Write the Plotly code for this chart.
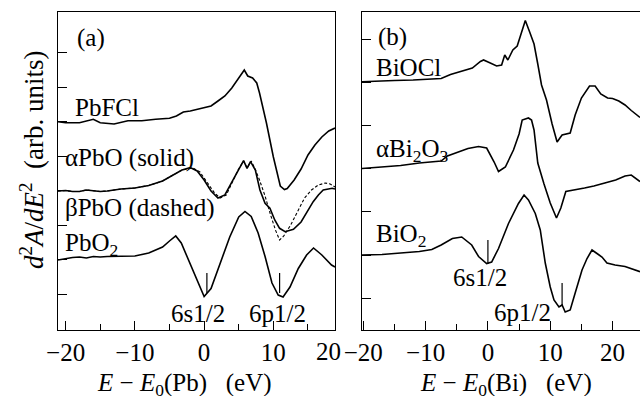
import plotly.graph_objects as go

# ---------------- data (x in eV, y in arb. units) ----------------
pbfcl_x = [-21.1, -20, -18, -16, -15, -13, -11, -9, -7, -5, -4, -3, -2, -1, 0, 1, 2, 3, 4, 5, 5.8, 6.3, 7, 7.6, 8, 9, 10, 11, 11.6, 12, 13, 14, 15, 16, 17, 18, 18.9]
pbfcl_y = [208.3, 207.3, 207.3, 210.7, 207.3, 206, 209.3, 209.3, 210.7, 211.7, 214, 218, 219, 220.5, 222, 224, 229, 234, 242, 252, 260, 254, 252, 247, 237, 207, 173, 144, 140.5, 141.5, 150, 161, 175, 185, 193, 199, 202]

apbo_x = [-21.1, -20, -19, -18, -17, -16, -15, -14, -13, -12, -10, -8, -6, -4.5, -3.2, -2, -1, 0, 1, 2, 3, 3.9, 4.9, 5.7, 6.2, 6.7, 7.4, 8.06, 8.8, 9.5, 10.2, 10.9, 11.7, 12.9, 14, 14.3, 15, 15.75, 16.5, 17.2, 18.5, 18.9]
apbo_y = [139, 139.5, 138.5, 138.5, 140, 139.5, 138.5, 139, 140, 141, 142, 144.5, 149, 155, 160, 162.5, 159, 150, 139, 132, 135, 146.7, 160, 169.3, 161.7, 168.3, 160, 140, 126.7, 121.7, 110, 101.7, 98.3, 100.7, 108, 111.7, 119, 128.3, 135, 140, 141.7, 141]

bpbo_x = [-21.1, -20, -19, -18, -17, -16, -15, -14, -13, -12, -10, -8, -6, -4.5, -3.2, -1.6, -0.6, 0.4, 1.5, 2.3, 3.2, 4, 4.9, 5.7, 6.2, 6.8, 7.3, 8, 8.8, 9.6, 10.3, 10.9, 11.5, 12.5, 13.5, 14.5, 15.5, 16.5, 17.5, 18.2, 18.9]
bpbo_y = [139, 139.5, 138.5, 138.5, 140, 139.5, 138.5, 139, 140, 141, 142, 144.5, 149, 155, 160, 162, 158, 148, 137, 132, 135, 146.7, 160, 169, 162, 169, 162, 150, 134, 115, 100, 90, 94, 105, 118, 132, 140, 145, 147, 146, 143]

pbo2_x = [-21.1, -20, -19, -18, -17, -16, -15, -14, -12, -10, -8, -7, -6, -5, -4.1, -3.3, -2, -1, 0, 1, 2.3, 3.7, 5, 5.9, 6.8, 7.8, 8.8, 9.8, 10.7, 11.4, 12.4, 13.6, 14.8, 15.8, 17, 18.4, 18.9]
pbo2_y = [70, 71.5, 72.5, 73, 72, 73.5, 73, 73.5, 73.5, 74, 77, 80, 83, 89, 94, 87, 66, 49, 33.5, 41.5, 67, 93, 113, 118.5, 113.5, 97, 73.5, 47, 35, 33, 43, 61.5, 75, 82, 75, 65, 63]

biocl_x = [-20.2, -18, -15, -12, -9, -7.5, -6, -4, -2.5, -1.2, -0.7, 0.2, 1.4, 2.2, 2.7, 3.2, 4, 4.7, 5.2, 6, 6.7, 7.4, 8, 8.6, 9.4, 10.3, 11.1, 11.9, 13.2, 14, 15, 16.3, 17.2, 18.1, 19.2, 20, 21, 22, 23, 24, 24.4]
biocl_y = [248.3, 249, 249.5, 250, 250.5, 251.5, 255.5, 259.5, 262, 268.5, 270, 267.5, 264, 265, 275, 270, 280, 284, 293, 309.5, 298, 286, 266, 245, 230, 206, 188, 195, 197, 215, 232, 244, 244, 236, 232, 231.5, 229, 225, 219.5, 214, 212.5]

abi2o3_x = [-20.2, -17, -14, -11, -9, -7.5, -6.5, -5, -3.2, -1.5, -0.2, 1, 1.7, 2.8, 4.1, 5, 5.5, 6.5, 7, 7.4, 8, 9, 10, 11, 11.7, 12.5, 14, 15.5, 17, 19, 20.5, 22, 23, 24.4]
abi2o3_y = [161.5, 163, 164.5, 167, 168.5, 169, 174, 177.5, 181.5, 183.5, 182, 168, 158.5, 163, 180, 196, 210, 212, 210, 200, 167, 146, 127, 112, 122, 138.5, 140, 142, 144, 147, 150, 154, 155, 148.5]

bio2_x = [-20.2, -17, -14, -11, -9, -7.5, -5.7, -4.2, -2.6, -1.5, -0.2, 0.6, 1.7, 3.3, 4.9, 5.8, 6.5, 7.6, 8.4, 9.2, 10, 10.6, 11.4, 11.9, 12.4, 13.2, 14, 15.1, 15.9, 16.7, 17.5, 18.3, 19.1, 20.4, 22, 24.4]
bio2_y = [75, 75.5, 77, 78.5, 80.5, 85, 91.5, 93, 85, 73.5, 66.5, 68, 81.5, 106.5, 126.5, 135, 130, 116.5, 100, 67, 43, 30, 23, 25, 18, 20, 37, 60, 71.5, 80, 76.5, 73, 67, 65, 63.5, 58.3]

# marker positions (eV) for the 6s1/2 and 6p1/2 levels
pb_levels = [0.4, 10.9]
bi_levels = [0.0, 11.9]
level_names = ["6s1/2", "6p1/2"]

FONT = "Liberation Serif"
BLACK = "black"
TXT = 25

fig = go.Figure()

def curve(x, y, xa, ya, dash="solid", width=1.6):
    fig.add_trace(go.Scatter(x=x, y=y, mode="lines", xaxis=xa, yaxis=ya,
                             line=dict(color=BLACK, width=width, dash=dash),
                             showlegend=False, hoverinfo="skip"))

curve(pbfcl_x, pbfcl_y, "x", "y")
curve(bpbo_x, bpbo_y, "x", "y", dash="3px,2px", width=1.1)
curve(apbo_x, apbo_y, "x", "y")
curve(pbo2_x, pbo2_y, "x", "y")
curve(biocl_x, biocl_y, "x2", "y2")
curve(abi2o3_x, abi2o3_y, "x2", "y2")
curve(bio2_x, bio2_y, "x2", "y2")

# level markers
for xv in pb_levels:
    fig.add_shape(type="line", xref="x", yref="y", x0=xv, x1=xv, y0=37, y1=57,
                  line=dict(color=BLACK, width=1.2))
fig.add_shape(type="line", xref="x2", yref="y2", x0=bi_levels[0], x1=bi_levels[0], y0=66, y1=90,
              line=dict(color=BLACK, width=1.2))
fig.add_shape(type="line", xref="x2", yref="y2", x0=bi_levels[1], x1=bi_levels[1], y0=25, y1=47,
              line=dict(color=BLACK, width=1.2))

def label(text, x, y, xa, ya, xanchor="left", size=TXT):
    fig.add_annotation(text=text, x=x, y=y, xref=xa, yref=ya, showarrow=False,
                       xanchor=xanchor, yanchor="middle",
                       font=dict(family=FONT, size=size, color=BLACK))

label("(a)", -18.7, 292.5, "x", "y")
label("PbFCl", -19.0, 222.5, "x", "y")
label("αPbO (solid)", -20.4, 172, "x", "y")
label("βPbO (dashed)", -20.4, 122, "x", "y")
label("PbO<sub>2</sub>", -20.4, 86, "x", "y")
label(level_names[0], -0.9, 17, "x", "y", xanchor="center")
label(level_names[1], 10.6, 17, "x", "y", xanchor="center")

label("(b)", -17.9, 293, "x2", "y2")
label("BiOCl", -18.3, 263, "x2", "y2")
label("αBi<sub>2</sub>O<sub>3</sub>", -18.3, 180, "x2", "y2")
label("BiO<sub>2</sub>", -18.3, 95, "x2", "y2")
label(level_names[0], -1.3, 53, "x2", "y2", xanchor="center")
label(level_names[1], 5.6, 18, "x2", "y2", xanchor="center")

# "20" tick label at the clipped right edge of panel (a)
fig.add_annotation(text="20", x=17.9, y=0, xref="x", yref="paper", xanchor="center", yanchor="top",
                   yshift=-6, showarrow=False, font=dict(family=FONT, size=TXT, color=BLACK))

# axis titles
fig.add_annotation(text="<i>E</i> − <i>E</i><sub>0</sub>(Pb)\u00a0\u00a0\u00a0(eV)", x=(184 - 58) / 582, y=(330 - 384) / 318,
                   xref="paper", yref="paper", xanchor="center", yanchor="middle", showarrow=False,
                   font=dict(family=FONT, size=TXT, color=BLACK))
fig.add_annotation(text="<i>E</i> − <i>E</i><sub>0</sub>(Bi)\u00a0\u00a0\u00a0(eV)", x=(506 - 58) / 582, y=(330 - 384) / 318,
                   xref="paper", yref="paper", xanchor="center", yanchor="middle", showarrow=False,
                   font=dict(family=FONT, size=TXT, color=BLACK))
fig.add_annotation(text="<i>d</i><sup>2</sup><i>A</i>/<i>dE</i><sup>2</sup>\u00a0\u00a0(arb. units)",
                   x=(32 - 58) / 582, y=(330 - 160) / 318, xref="paper", yref="paper",
                   xanchor="center", yanchor="middle", showarrow=False,
                   textangle=-90, font=dict(family=FONT, size=27, color=BLACK))

axis_common = dict(showline=True, linecolor=BLACK, linewidth=1.3, showgrid=False, zeroline=False,
                   ticks="inside", ticklen=9, tickwidth=1.2, tickcolor=BLACK, automargin=False,
                   tickfont=dict(family=FONT, size=TXT, color=BLACK))

fig.update_layout(
    template="none",
    width=640, height=396,
    margin=dict(l=58, r=0, t=12, b=66),
    paper_bgcolor="white", plot_bgcolor="white",
    xaxis=dict(domain=[0, (335 - 58) / 582], range=[-21.1, 18.9], tickvals=[-20, -10, 0, 10],
               minor=dict(tickvals=[-15, -5, 5, 15], ticks="inside", ticklen=6, tickcolor=BLACK, tickwidth=1.2),
               mirror=True, anchor="y", **axis_common),
    yaxis=dict(domain=[0, 1], range=[0, 318], showticklabels=False,
               tickvals=[35.7 + 34.5 * k for k in range(8)], mirror=True, anchor="x", **axis_common),
    xaxis2=dict(domain=[(362 - 58) / 582, 1], range=[-20.2, 24.4], tickvals=[-20, -10, 0, 10, 20],
                minor=dict(tickvals=[-15, -5, 5, 15], ticks="inside", ticklen=6, tickcolor=BLACK, tickwidth=1.2),
                mirror=True, anchor="y2", **axis_common),
    yaxis2=dict(domain=[0, 1], range=[0, 318], showticklabels=False,
                tickvals=[31.7 + 43.2 * k for k in range(7)], mirror=False, anchor="x2", **axis_common),
)

fig.write_html("out.html", config={"displayModeBar": False},
               post_script="document.body.style.margin='0';document.body.style.overflow='hidden';")
